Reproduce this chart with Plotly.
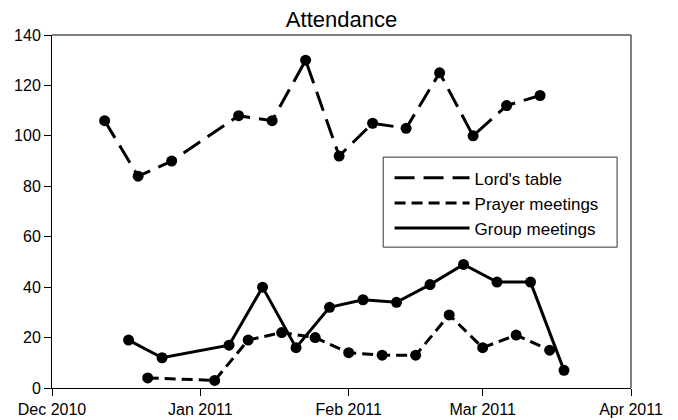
import plotly.graph_objects as go

lords_dates = ["2010-12-12", "2010-12-19", "2010-12-26", "2011-01-09", "2011-01-16",
               "2011-01-23", "2011-01-30", "2011-02-06", "2011-02-13", "2011-02-20",
               "2011-02-27", "2011-03-06", "2011-03-13"]
lords_values = [106, 84, 90, 108, 106, 130, 92, 105, 103, 125, 100, 112, 116]

prayer_dates = ["2010-12-21", "2011-01-04", "2011-01-11", "2011-01-18", "2011-01-25",
                "2011-02-01", "2011-02-08", "2011-02-15", "2011-02-22", "2011-03-01",
                "2011-03-08", "2011-03-15"]
prayer_values = [4, 3, 19, 22, 20, 14, 13, 13, 29, 16, 21, 15]

group_dates = ["2010-12-17", "2010-12-24", "2011-01-07", "2011-01-14", "2011-01-21",
               "2011-01-28", "2011-02-04", "2011-02-11", "2011-02-18", "2011-02-25",
               "2011-03-04", "2011-03-11", "2011-03-18"]
group_values = [19, 12, 17, 40, 16, 32, 35, 34, 41, 49, 42, 42, 7]

x_ticks = ["2010-12-01", "2011-01-01", "2011-02-01", "2011-03-01", "2011-04-01"]
x_tick_labels = ["Dec 2010", "Jan 2011", "Feb 2011", "Mar 2011", "Apr 2011"]
y_ticks = [0, 20, 40, 60, 80, 100, 120, 140]

series = [
    ("Lord's table", lords_dates, lords_values, "20px,9px"),
    ("Prayer meetings", prayer_dates, prayer_values, "11px,6px"),
    ("Group meetings", group_dates, group_values, "solid"),
]

fig = go.Figure()
for name, xs, ys, dash in series:
    fig.add_trace(go.Scatter(
        x=xs, y=ys, mode="lines+markers", name=name, showlegend=False,
        line=dict(color="black", width=3, dash=dash),
        marker=dict(color="black", size=11, symbol="circle"),
    ))
for name, xs, ys, dash in series:
    fig.add_trace(go.Scatter(
        x=[None], y=[None], mode="lines", name=name, showlegend=True,
        line=dict(color="black", width=3, dash=dash),
    ))

font_family = "Liberation Sans, Arial, sans-serif"
frame_color = "#555555"
# page body has an 8px margin, so the figure is 8px smaller than the window
fig.update_layout(
    width=670, height=412,
    margin=dict(l=44, r=47, t=27, b=32),
    paper_bgcolor="white", plot_bgcolor="white",
    font=dict(family=font_family, size=16, color="black"),
    title=dict(text="Attendance", x=0.5, xanchor="center", xref="paper",
               yref="container", y=0.973, yanchor="middle",
               font=dict(size=22, color="black")),
    legend=dict(x=0.583, y=0.645, xanchor="left", yanchor="top",
                bgcolor="rgba(0,0,0,0)", borderwidth=0,
                font=dict(size=17), itemwidth=75, tracegroupgap=0),
    showlegend=True,
    shapes=[
        dict(type="rect", xref="paper", yref="paper",
             x0=0.572, x1=0.976, y0=0.399, y1=0.654,
             line=dict(color="#333333", width=1), fillcolor="white", layer="below"),
        dict(type="line", xref="paper", yref="paper", x0=0, x1=1, y0=1, y1=1,
             line=dict(color=frame_color, width=1.5)),
        dict(type="line", xref="paper", yref="paper", x0=1, x1=1, y0=0, y1=1,
             line=dict(color=frame_color, width=1.5)),
    ],
)
fig.update_xaxes(
    type="date", range=["2010-12-01", "2011-04-01"], automargin=False,
    tickmode="array", tickvals=x_ticks, ticktext=x_tick_labels,
    showgrid=False, zeroline=False, showline=True, linecolor="black", linewidth=1,
    mirror=False, ticks="outside", ticklen=7, tickcolor="black",
    tickfont=dict(size=16),
)
fig.update_yaxes(
    range=[0, 140], tickmode="array", tickvals=y_ticks, automargin=False,
    showgrid=False, zeroline=False, showline=True, linecolor="black", linewidth=1,
    mirror=False, ticks="outside", ticklen=7, tickcolor="black",
    tickfont=dict(size=16),
)

fig.write_html("out.html")
